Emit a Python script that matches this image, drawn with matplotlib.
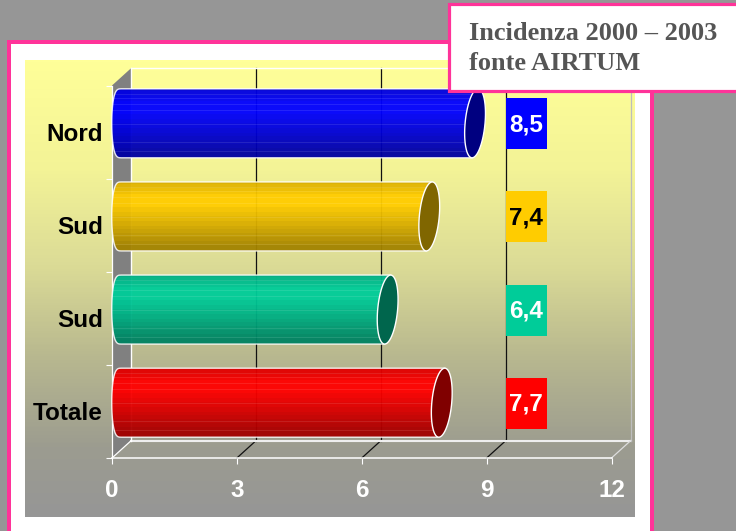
import matplotlib
matplotlib.use('Agg')
import matplotlib.pyplot as plt
import numpy as np
from matplotlib.colors import to_rgb, LinearSegmentedColormap
from matplotlib.patches import PathPatch, Polygon, Rectangle
from matplotlib.path import Path

W, H = 736, 531

categorie = ['Nord', 'Sud', 'Sud', 'Totale']
valori = [8.5, 7.4, 6.4, 7.7]
colori = ['#0000FF', '#FFCC00', '#00CC99', '#FF0000']
colori_testo = ['white', 'black', 'white', 'white']
x_ticks = [0, 3, 6, 9, 12]
titolo = 'Incidenza 2000 \u2013 2003\nfonte AIRTUM'

ROSA = '#FF3399'
GRIGIO = '#969696'

plt.rcParams['font.family'] = ['Liberation Sans', 'DejaVu Sans']

fig = plt.figure(figsize=(W / 100, H / 100), dpi=100, facecolor=GRIGIO)


def rect_px(left, top, right, bottom):
    return [left / W, 1 - bottom / H, (right - left) / W, (bottom - top) / H]


# fondo, cornice e pannello in pixel
bg = fig.add_axes([0, 0, 1, 1], zorder=0)
bg.set_xlim(0, W)
bg.set_ylim(H, 0)
bg.axis('off')
bg.add_patch(Rectangle((7, 40), 647, 500, fc=ROSA, ec='none'))
bg.add_patch(Rectangle((11, 44), 639, 500, fc='white', ec='none'))

cmap = LinearSegmentedColormap.from_list('sfondo', [
    (0.0, '#FFFF99'), (0.24, '#F3F396'), (0.45, '#DBDB96'),
    (0.65, '#B8B88F'), (0.85, '#9C9C90'), (1.0, '#969696')])
bg.imshow(np.linspace(0, 1, 457)[:, None], extent=(25, 635, 517, 60), cmap=cmap,
          aspect='auto', zorder=1)
bg.set_xlim(0, W)
bg.set_ylim(H, 0)

# assi del grafico 3d: fronte da 112 a 611.5 px, da 85.5 a 458 px
ax = fig.add_axes(rect_px(112, 85.5, 611.5, 458), zorder=2)
ax.patch.set_alpha(0)
ax.set_xlim(0, 12)
ax.set_ylim(3.5, -0.5)
for s in ax.spines.values():
    s.set_visible(False)

px_x = 12 / 499.5
px_y = 4 / 372.5
dx = 19.3 * px_x
dy = 17.5 * px_y
y0, y1 = -0.5, 3.5

# parete sinistra, griglia e bordi
ax.add_patch(Polygon([(0, y0), (dx, y0 - dy), (dx, y1 - dy), (0, y1)], fc='#808080', ec='none',
                     clip_on=False, zorder=2))
for t in x_ticks[1:-1]:
    ax.plot([t + dx, t + dx], [y0 - dy, y1 - dy], color='#111111', lw=0.9, clip_on=False, zorder=2)
    ax.plot([t, t + dx], [y1, y1 - dy], color='#111111', lw=0.9, clip_on=False, zorder=2)
ax.plot([dx, 12 + dx], [y0 - dy, y0 - dy], color='white', lw=1, clip_on=False, zorder=2)
ax.plot([dx, 12 + dx], [y1 - dy, y1 - dy], color='#EEEEEE', lw=1.5, clip_on=False, zorder=2)
ax.plot([dx, dx], [y0 - dy, y1 - dy], color='white', lw=1, clip_on=False, zorder=2)
ax.plot([12 + dx, 12 + dx], [y0 - dy, y1 - dy], color='#BDBDBD', lw=0.9, clip_on=False, zorder=2)
ax.plot([0, dx], [y1, y1 - dy], color='white', lw=0.9, clip_on=False, zorder=2)
ax.plot([12, 12 + dx], [y1, y1 - dy], color='#DDDDDD', lw=0.9, clip_on=False, zorder=2)
ax.plot([0, 12], [y1, y1], color='white', lw=1.1, clip_on=False, zorder=3)
ax.plot([0, 0], [y0, y1], color='white', lw=0.9, clip_on=False, zorder=3)

# sfumatura del cilindro
pos = [0.0, 0.06, 0.2, 0.32, 0.6, 0.85, 1.0]
luce = [0.86, 0.9, 1.0, 1.0, 0.86, 0.7, 0.62]
strisce = [0.08, 0.14, 0.22, 0.31, 0.52, 0.77, 0.9]
semi_h = 34.5 * px_y
semi_w = 9.5 * px_x
tilt = 3 * px_x
t_arc = np.linspace(0, np.pi, 40)

for i, (val, col) in enumerate(zip(valori, colori)):
    yc = i - dy / 2
    xa = 18.5 * px_x / 2
    xb = val + 18.5 * px_x / 2
    rows = 69
    f = np.interp(np.linspace(0, 1, rows), pos, luce)
    f = np.round(f * 28) / 28
    img = np.outer(f, to_rgb(col)).reshape(rows, 1, 3)
    for s in strisce:
        r = int(s * rows)
        img[r] = img[r] * 0.9 + 0.1
    # contorno: arco sinistro (dal basso in alto) e poi il tappo
    sx = xa - semi_w * np.sin(t_arc) ** 0.6
    sy = yc + semi_h * np.cos(t_arc)
    px = np.r_[sx, xb + tilt, xb - tilt, sx[0]]
    py = np.r_[sy, yc - semi_h, yc + semi_h, sy[0]]
    path = Path(np.c_[px, py])
    im = ax.imshow(img, extent=(xa - semi_w, xb + tilt, yc + semi_h, yc - semi_h), aspect='auto',
                   interpolation='nearest', alpha=0.96, zorder=4)
    patch = PathPatch(path, fc='none', ec='none', transform=ax.transData, clip_on=False)
    ax.add_patch(patch)
    im.set_clip_path(patch)
    ax.plot(np.r_[xb - tilt, sx, xb + tilt], np.r_[yc + semi_h, sy, yc - semi_h], color='white',
            lw=1, alpha=0.85, clip_on=False, zorder=5)
    # tappo
    tt = np.linspace(0, 2 * np.pi, 80)
    cx = xb + semi_w * 1.05 * np.cos(tt) - tilt * np.sin(tt)
    cy = yc + semi_h * np.sin(tt)
    ax.fill(cx, cy, fc=tuple(c * 0.5 for c in to_rgb(col)), ec='white', lw=1, clip_on=False, zorder=6)
    # etichetta del valore
    bx = 9 + dx
    bw = 41 * px_x
    bh = 51 * px_y
    ax.add_patch(Rectangle((bx, yc - bh / 2 + 0.5 * px_y), bw, bh, fc=col, ec='none', clip_on=False, zorder=7))
    ax.text(bx + bw / 2, yc + 1.5 * px_y, f'{val:.1f}'.replace('.', ','), color=colori_testo[i], fontsize=17.5,
            fontweight='bold', ha='center', va='center', zorder=8, clip_on=False)

ax.set_xlim(0, 12)
ax.set_ylim(3.5, -0.5)

ax.set_xticks(x_ticks)
ax.set_xticklabels([str(t) for t in x_ticks], color='white', fontsize=17.5, fontweight='bold')
ax.set_yticks(range(len(categorie)))
ax.set_yticklabels(categorie, color='black', fontsize=17.5, fontweight='bold')
ax.set_yticks([-0.5, 0.5, 1.5, 2.5, 3.5], minor=True)
ax.tick_params(axis='y', which='major', length=0, pad=6.5)
ax.tick_params(axis='y', which='minor', length=4.3, width=0.8, color='white')
ax.tick_params(axis='x', which='major', length=4.3, width=0.8, color='white', pad=11)

# riquadro del titolo
top = fig.add_axes([0, 0, 1, 1], zorder=5)
top.set_xlim(0, W)
top.set_ylim(H, 0)
top.axis('off')
top.add_patch(Rectangle((448.5, 4), 300, 86.5, fc='white', ec=ROSA, lw=2.3))
top.text(469, 48.5, titolo, family=['Liberation Serif', 'DejaVu Serif'], fontweight='bold', fontsize=19,
         color='#555555', ha='left', va='center', linespacing=1.42)

fig.savefig('out.png', dpi=100, facecolor=GRIGIO)
